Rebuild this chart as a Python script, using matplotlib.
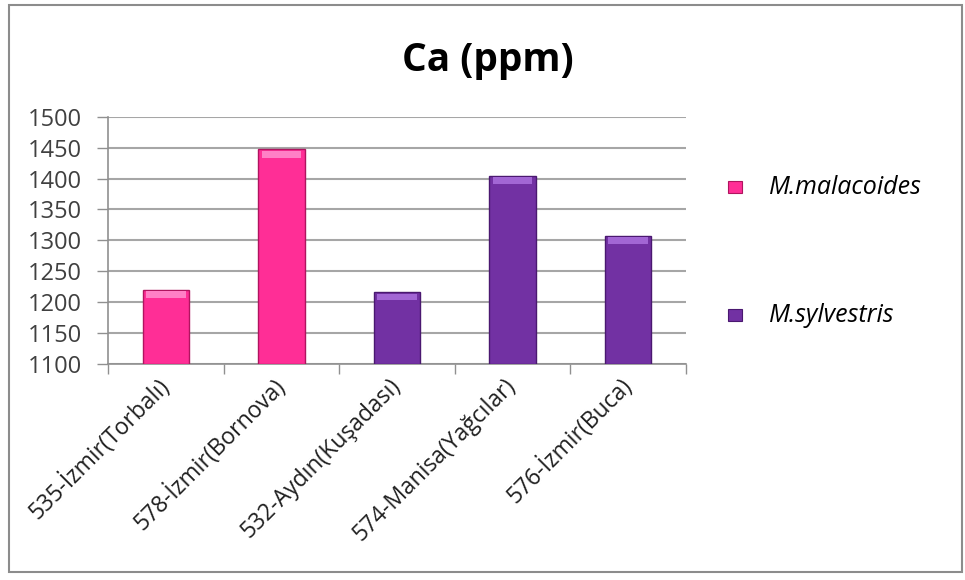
import matplotlib.pyplot as plt
from matplotlib.patches import Rectangle
import numpy as np

# Ca content per sample (ppm)
sites = ['535-İzmir(Torbalı)', '578-İzmir(Bornova)', '532-Aydın(Kuşadası)',
         '574-Manisa(Yağcılar)', '576-İzmir(Buca)']
ca_ppm = [1220, 1447, 1216, 1404, 1307]
species = ['M.malacoides', 'M.malacoides', 'M.sylvestris', 'M.sylvestris', 'M.sylvestris']

colors = {'M.malacoides': '#FF2E96', 'M.sylvestris': '#7231A3'}
edges = {'M.malacoides': '#B0145F', 'M.sylvestris': '#4A1870'}
tops = {'M.malacoides': '#FF80C6', 'M.sylvestris': '#A266D4'}

plt.rcParams['font.family'] = ['Open Sans', 'DejaVu Sans']

fig = plt.figure(figsize=(9.65, 5.8), dpi=100)
fig.patch.set_facecolor('white')

# outer chart frame
fig.add_artist(Rectangle((9/965, 1-572/580), (962-9)/965, (572-5)/580,
                         transform=fig.transFigure, fill=False,
                         edgecolor='#8C8C8C', linewidth=1.5))

ax = fig.add_axes([0.1122, 0.3724, 0.5984, 0.4264])

x = np.arange(len(sites))
ymin, ymax = 1100, 1500
cap = 11  # height of the lighter bevel at the top of each bar

for xi, v, sp in zip(x, ca_ppm, species):
    ax.bar(xi, v - ymin, bottom=ymin, width=0.4, color=colors[sp],
           edgecolor=edges[sp], linewidth=1.0, zorder=3)
    ax.bar(xi, cap, bottom=v - cap - 2, width=0.34, color=tops[sp],
           linewidth=0, zorder=4)

ax.set_xlim(-0.5, len(sites) - 0.5)
ax.set_ylim(ymin, ymax)
ax.set_yticks(np.arange(1100, 1501, 50))
ax.tick_params(axis='y', labelsize=17, labelcolor='#404040', length=8,
               width=1, direction='out', pad=11, color='#909090')

# category ticks sit on the boundaries, labels at the centres
ax.set_xticks(np.arange(-0.5, len(sites), 1.0))
ax.set_xticklabels([])
ax.tick_params(axis='x', length=7, width=1, color='#909090', direction='out')
ax.set_xticks(x, minor=True)
ax.set_xticklabels(sites, minor=True, rotation=45, ha='right', va='center',
                   rotation_mode='anchor', fontsize=16.5, color='#202020')
ax.tick_params(axis='x', which='minor', length=0, pad=13)

ax.grid(axis='y', color='#A6A6A6', linewidth=1.5, zorder=0)
for s in ['top', 'right']:
    ax.spines[s].set_visible(False)
for s in ['left', 'bottom']:
    ax.spines[s].set_color('#909090')
    ax.spines[s].set_linewidth(1.2)

fig.text(0.506, 1 - 61/580, 'Ca (ppm)', ha='center', va='center',
         fontsize=28, fontweight='bold', color='#000000')

# legend
for sp, ypx in [('M.malacoides', 187), ('M.sylvestris', 315)]:
    fig.add_artist(Rectangle((728/965, 1 - (ypx + 6)/580), 14/965, 12/580,
                             transform=fig.transFigure, facecolor=colors[sp],
                             edgecolor=edges[sp], linewidth=0.8))
    fig.text(769/965, 1 - ypx/580, sp, ha='left', va='center',
             fontsize=18, style='italic', color='#000000')

fig.savefig('out.png', dpi=100)
